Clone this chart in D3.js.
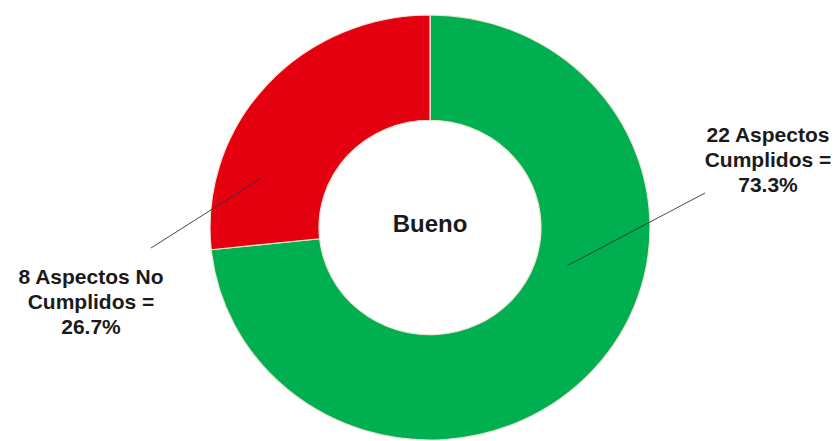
<!DOCTYPE html>
<html>
<head>
<meta charset="utf-8">
<script src="https://cdn.jsdelivr.net/npm/d3@7"></script>
<style>
  html, body { margin: 0; padding: 0; background: #fff; }
  text { font-family: 'Liberation Sans', Arial, sans-serif; font-weight: bold; fill: #1a1a1a; }
</style>
</head>
<body>
<div class="canvas"></div>
<script>
'use strict';

const categories = ['Aspectos Cumplidos', 'Aspectos No Cumplidos'];
const values = [22, 8];
const colors = ['#00B050', '#E5000F'];
const labelLines = [
  ['22 Aspectos', 'Cumplidos =', '73.3%'],
  ['8 Aspectos No', 'Cumplidos =', '26.7%']
];
const centerLabel = 'Bueno';

const width = 840;
const height = 441;
const cx = 430;
const cy = 227.5;
const outerR = 220;
const innerR = 111;
const squash = 0.966;

// label placement (layout only): label centre x, first baseline y, leader anchor angle/radius, leader end
const labelPos = [
  { x: 768, y: 142, angle: 106 * Math.PI / 180, r: 143, end: [705, 193] },
  { x: 91, y: 284, angle: 287 * Math.PI / 180, r: 176, end: [151, 248] }
];

const svg = d3
  .select('.canvas')
  .append('svg')
  .attr('width', width)
  .attr('height', height);

const data = categories.map((c, i) => ({ name: c, value: values[i], color: colors[i] }));

const pie = d3.pie().sort(null).value(d => d.value);
const arc = d3.arc().innerRadius(innerR).outerRadius(outerR);
const arcs = pie(data);

const ring = svg
  .append('g')
  .attr('transform', `translate(${cx},${cy}) scale(1,${squash})`);

ring
  .selectAll('path')
  .data(arcs)
  .enter()
  .append('path')
  .attr('d', arc)
  .attr('fill', d => d.data.color)
  .attr('stroke', '#efe3d3')
  .attr('stroke-width', 1.2);

svg
  .append('text')
  .attr('x', cx)
  .attr('y', 232)
  .attr('text-anchor', 'middle')
  .style('font-size', '24px')
  .text(centerLabel);

// leader lines
svg
  .selectAll('line.leader')
  .data(arcs)
  .enter()
  .append('line')
  .attr('class', 'leader')
  .attr('x1', (d, i) => cx + d3.pointRadial(labelPos[i].angle, labelPos[i].r)[0])
  .attr('y1', (d, i) => cy + d3.pointRadial(labelPos[i].angle, labelPos[i].r)[1] * squash)
  .attr('x2', (d, i) => labelPos[i].end[0])
  .attr('y2', (d, i) => labelPos[i].end[1])
  .attr('stroke', '#333')
  .attr('stroke-width', 0.9);

const labels = svg
  .selectAll('text.lbl')
  .data(arcs)
  .enter()
  .append('text')
  .attr('class', 'lbl')
  .attr('text-anchor', 'middle')
  .style('font-size', '21px');

labels
  .selectAll('tspan')
  .data((d, i) => labelLines[i].map(t => ({ t, i })))
  .enter()
  .append('tspan')
  .attr('x', d => labelPos[d.i].x)
  .attr('y', (d, j) => labelPos[d.i].y + j * 25)
  .text(d => d.t);
</script>
</body>
</html>
